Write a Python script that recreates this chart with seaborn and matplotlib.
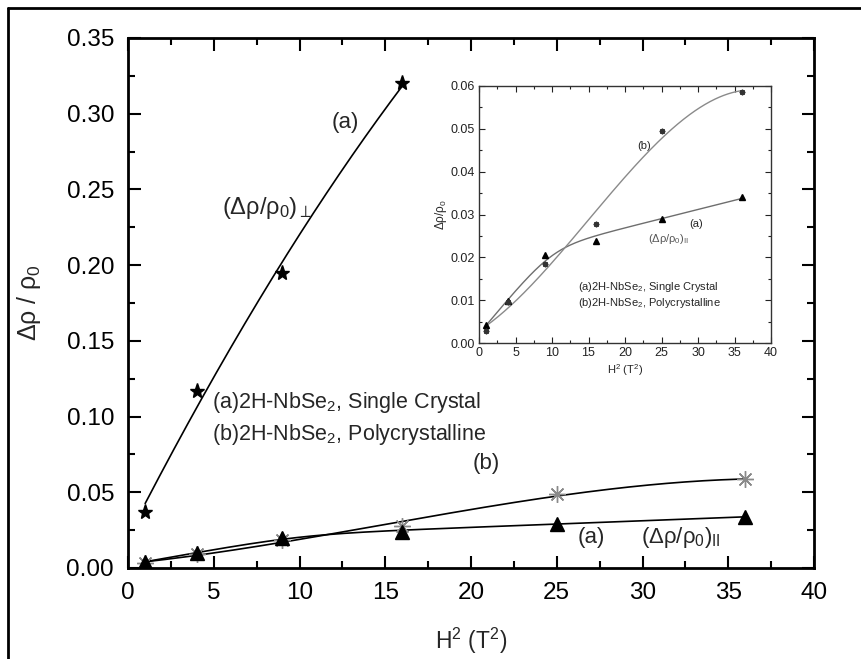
import numpy as np
import pandas as pd
import matplotlib
matplotlib.use("Agg")
import matplotlib.pyplot as plt
import seaborn as sns
from matplotlib.ticker import MultipleLocator
from matplotlib.lines import Line2D

# ---------------- data ----------------
h2_perp = [1, 4, 9, 16]
perp = [0.037, 0.117, 0.195, 0.320]

h2 = [1, 4, 9, 16, 25, 36]
par_a = [0.004, 0.010, 0.020, 0.024, 0.029, 0.034]
poly_b = [0.003, 0.0095, 0.0185, 0.028, 0.049, 0.0585]

inset_par_a = [0.0042, 0.0097, 0.0205, 0.0238, 0.029, 0.034]
inset_poly_b = [0.0028, 0.0095, 0.0185, 0.0277, 0.0494, 0.0586]

xticks_main = [0, 5, 10, 15, 20, 25, 30, 35, 40]
yticks_main = [0.00, 0.05, 0.10, 0.15, 0.20, 0.25, 0.30, 0.35]
xticks_inset = [0, 5, 10, 15, 20, 25, 30, 35, 40]
yticks_inset = [0.00, 0.01, 0.02, 0.03, 0.04, 0.05, 0.06]

# ---------------- style ----------------
sns.set_style("ticks")
plt.rcParams['font.family'] = ['Liberation Sans', 'DejaVu Sans']
plt.rcParams['mathtext.fontset'] = 'custom'
plt.rcParams['mathtext.rm'] = 'Liberation Sans'
plt.rcParams['mathtext.it'] = 'Liberation Sans'
plt.rcParams['mathtext.sf'] = 'Liberation Sans'

fig = plt.figure(figsize=(8.61, 6.59), dpi=100)
W, H = 861, 659
ax = fig.add_axes([128 / W, 1 - 568 / H, (814 - 128) / W, (568 - 38) / H])


def poly_curve(x, y, deg, xs):
    return np.polyval(np.polyfit(x, y, deg), xs)


def knee_curve(x, y, xs, x0=10.0, w=2.0):
    # least-squares fit with basis [1, x, softplus((x-x0)/w)]
    def sp(v):
        return w * np.log1p(np.exp((v - x0) / w))
    x = np.asarray(x, float)
    A = np.column_stack([np.ones_like(x), x, sp(x)])
    c, *_ = np.linalg.lstsq(A, np.asarray(y, float), rcond=None)
    return c[0] + c[1] * xs + c[2] * sp(xs)


xs_perp = np.linspace(min(h2_perp), max(h2_perp), 200)
xs = np.linspace(min(h2), max(h2), 300)

df_perp = pd.DataFrame({"x": xs_perp, "y": poly_curve(h2_perp, perp, 2, xs_perp)})
df_a = pd.DataFrame({"x": xs, "y": knee_curve(h2, par_a, xs)})
df_b = pd.DataFrame({"x": xs, "y": poly_curve(h2, poly_b, 3, xs)})

sns.lineplot(data=df_perp, x="x", y="y", ax=ax, color="black", lw=1.2)
sns.lineplot(data=df_a, x="x", y="y", ax=ax, color="black", lw=1.2)
sns.lineplot(data=df_b, x="x", y="y", ax=ax, color="black", lw=1.2)

ax.plot(h2, poly_b, ls="none", marker=(8, 2, 0), ms=12, mec="#8a8a8a", mew=1.0)
ax.plot(h2, par_a, ls="none", marker="^", ms=10, color="black")
ax.plot(h2_perp, perp, ls="none", marker="*", ms=11, color="black")

ax.set_xlim(0, 40)
ax.set_ylim(0, 0.35)
ax.set_xticks(xticks_main)
ax.set_yticks(yticks_main)
ax.set_yticklabels([f"{v:.2f}" for v in yticks_main])
ax.xaxis.set_minor_locator(MultipleLocator(2.5))
ax.yaxis.set_minor_locator(MultipleLocator(0.025))
ax.tick_params(which="both", direction="in", top=True, right=True, width=1.5,
               labelsize=17.5, colors="black", pad=10)
ax.tick_params(which="major", length=9)
ax.tick_params(which="minor", length=5)
for s in ax.spines.values():
    s.set_linewidth(2)
    s.set_color("black")
ax.set_xlabel(r"H$^2$ (T$^2$)", fontsize=16.5, labelpad=16)
ax.set_ylabel(r"$\Delta\rho$ / $\rho_0$", fontsize=18, labelpad=17)

ax.text(12.65, 0.294, "(a)", fontsize=16, ha="center", va="center")
ax.text(5.5, 0.238, r"($\Delta\rho$/$\rho_0$)$_\perp$", fontsize=17, ha="left", va="center")
ax.text(4.9, 0.109, r"(a)2H-NbSe$_2$, Single Crystal", fontsize=15.5, ha="left", va="center")
ax.text(4.9, 0.088, r"(b)2H-NbSe$_2$, Polycrystalline", fontsize=15.5, ha="left", va="center")
ax.text(20.9, 0.069, "(b)", fontsize=16, ha="center", va="center")
ax.text(27.0, 0.020, "(a)", fontsize=16, ha="center", va="center")
ax.text(29.9, 0.020, r"($\Delta\rho$/$\rho_0$)$_{\rm II}$", fontsize=16, ha="left", va="center")

# ---------------- inset ----------------
ins = fig.add_axes([479 / W, 1 - 343 / H, (771 - 479) / W, (343 - 86) / H])
df_ia = pd.DataFrame({"x": xs, "y": knee_curve(h2, inset_par_a, xs)})
df_ib = pd.DataFrame({"x": xs, "y": poly_curve(h2, inset_poly_b, 3, xs)})
sns.lineplot(data=df_ia, x="x", y="y", ax=ins, color="#6e6e6e", lw=1.0)
sns.lineplot(data=df_ib, x="x", y="y", ax=ins, color="#8a8a8a", lw=1.0)
ins.plot(h2, inset_par_a, ls="none", marker="^", ms=4.5, color="black")
ins.plot(h2, inset_poly_b, ls="none", marker=(8, 2, 0), ms=4, mec="#333333", mew=1.0)
ins.set_xlim(0, 40)
ins.set_ylim(0, 0.06)
ins.set_xticks(xticks_inset)
ins.set_yticks(yticks_inset)
ins.set_yticklabels([f"{v:.2f}" for v in yticks_inset])
ins.xaxis.set_minor_locator(MultipleLocator(2.5))
ins.yaxis.set_minor_locator(MultipleLocator(0.005))
ins.tick_params(which="both", direction="in", top=True, right=True, width=0.8,
                labelsize=9, colors="#222222", pad=3)
ins.tick_params(which="major", length=4)
ins.tick_params(which="minor", length=2)
for s in ins.spines.values():
    s.set_linewidth(1.0)
    s.set_color("#333333")
ins.set_xlabel(r"H$^2$ (T$^2$)", fontsize=8, labelpad=2)
ins.set_ylabel(r"$\Delta\rho$/$\rho_0$", fontsize=8.5, labelpad=1)
ins.text(22.6, 0.046, "(b)", fontsize=8, ha="center", va="center")
ins.text(29.7, 0.0278, "(a)", fontsize=8, ha="center", va="center")
ins.text(26.0, 0.0243, r"($\Delta\rho$/$\rho_0$)$_{\rm II}$", fontsize=8, ha="center",
         va="center", color="#555555")
ins.text(13.6, 0.0131, r"(a)2H-NbSe$_2$, Single Crystal", fontsize=8, ha="left", va="center")
ins.text(13.6, 0.0093, r"(b)2H-NbSe$_2$, Polycrystalline", fontsize=8, ha="left", va="center")

# outer frame: top and left edges only
fig.lines.append(Line2D([8 / W, 1.0], [1 - 8 / H, 1 - 8 / H], transform=fig.transFigure,
                        color="black", lw=2))
fig.lines.append(Line2D([8 / W, 8 / W], [0.0, 1 - 8 / H], transform=fig.transFigure,
                        color="black", lw=2))

fig.savefig("out.png", dpi=100)
